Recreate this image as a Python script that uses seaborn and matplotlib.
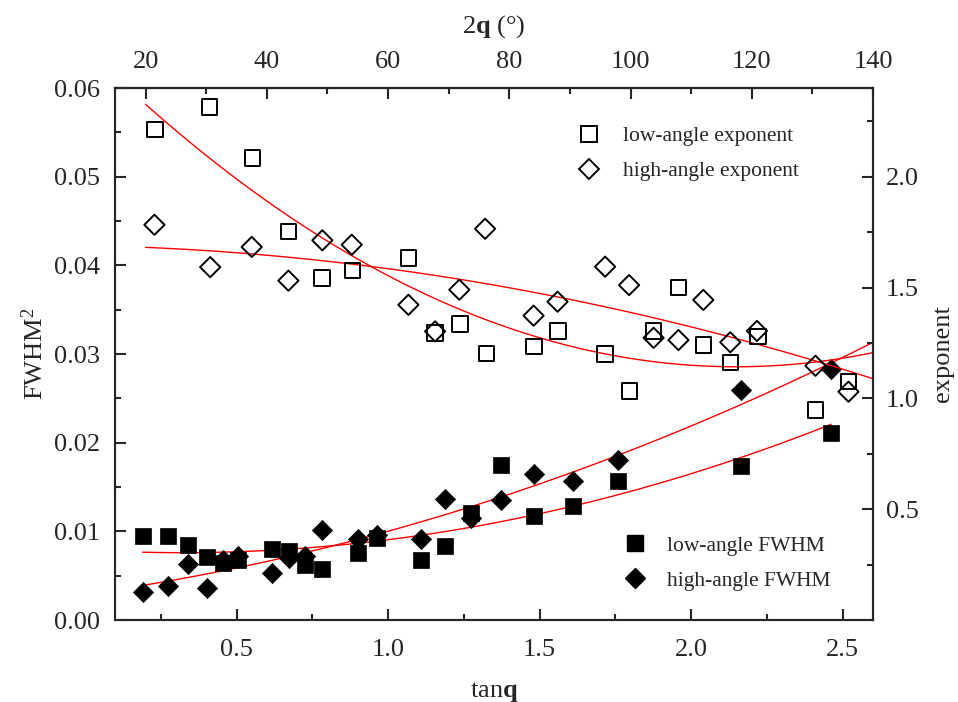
import numpy as np
import matplotlib
matplotlib.use("Agg")
import matplotlib.pyplot as plt
import seaborn as sns
from matplotlib.lines import Line2D

# ---------------- data ----------------
# filled markers (FWHM^2, left axis)
tan_fwhm = [0.19, 0.273, 0.341, 0.402, 0.456, 0.506, 0.618, 0.673, 0.726, 0.781,
            0.90, 0.963, 1.108, 1.188, 1.272, 1.373, 1.482, 1.61, 1.76, 2.165, 2.462]
low_fwhm = [0.0095, 0.0095, 0.0085, 0.0071, 0.0064, 0.0068, 0.0080, 0.0078, 0.0062, 0.0058,
            0.0076, 0.0092, 0.0068, 0.0084, 0.0121, 0.0175, 0.0117, 0.0129, 0.0157, 0.0174, 0.0211]
high_fwhm = [0.0032, 0.0038, 0.0063, 0.0036, 0.0068, 0.0072, 0.0053, 0.0070, 0.0072, 0.0101,
             0.0091, 0.0096, 0.0091, 0.0137, 0.0115, 0.0135, 0.0165, 0.0157, 0.0180, 0.0259, 0.0283]

# open markers (exponent, right axis)
tan_exp_low = [0.231, 0.41, 0.552, 0.671, 0.782, 0.883, 1.067, 1.155, 1.238, 1.325, 1.482,
               1.56, 1.716, 1.796, 1.876, 1.958, 2.04, 2.129, 2.22, 2.41, 2.519]
low_exp = [2.212, 2.314, 2.084, 1.753, 1.543, 1.576, 1.633, 1.295, 1.335, 1.203, 1.233,
           1.304, 1.200, 1.033, 1.304, 1.501, 1.240, 1.162, 1.278, 0.947, 1.075]
tan_exp_high = [0.229, 0.413, 0.55, 0.671, 0.783, 0.88, 1.067, 1.155, 1.235, 1.32, 1.48,
                1.559, 1.716, 1.795, 1.876, 1.958, 2.04, 2.129, 2.217, 2.41, 2.519]
high_exp = [1.783, 1.592, 1.683, 1.531, 1.713, 1.693, 1.422, 1.302, 1.490, 1.765, 1.373,
            1.436, 1.594, 1.511, 1.273, 1.263, 1.444, 1.253, 1.304, 1.147, 1.030]

x_ticks = [0.5, 1.0, 1.5, 2.0, 2.5]
y_ticks = [0.00, 0.01, 0.02, 0.03, 0.04, 0.05, 0.06]
exp_ticks = [0.5, 1.0, 1.5, 2.0]
top_ticks = [20, 40, 60, 80, 100, 120, 140]

# ---------------- style ----------------
sns.set_style("ticks")
plt.rcParams["font.family"] = ["Liberation Serif", "DejaVu Serif"]
plt.rcParams["mathtext.fontset"] = "custom"
plt.rcParams["mathtext.rm"] = "Liberation Serif"
plt.rcParams["mathtext.it"] = "Liberation Serif:italic"
plt.rcParams["mathtext.bf"] = "Liberation Serif:bold"
plt.rcParams["axes.linewidth"] = 1.5
plt.rcParams["xtick.direction"] = "in"
plt.rcParams["ytick.direction"] = "in"

FS = 19
fig = plt.figure(figsize=(9.58, 7.02), dpi=100)
ax = fig.add_axes([0.1204, 0.1168, 0.7909, 0.7578])
ax2 = ax.twinx()

# fits (quadratic regression through seaborn)
ax.set_xlim(0.19, 2.6)
sns.regplot(x=np.array(tan_fwhm), y=np.array(low_fwhm), order=2, ci=None, scatter=False,
            truncate=True, ax=ax, line_kws=dict(color="red", lw=1.0))
sns.regplot(x=np.array(tan_fwhm), y=np.array(high_fwhm), order=2, ci=None, scatter=False,
            truncate=False, ax=ax, line_kws=dict(color="red", lw=1.0))
ax2.set_xlim(0.2, 2.6)
sns.regplot(x=np.array(tan_exp_low), y=np.array(low_exp), order=2, ci=None, scatter=False,
            truncate=False, ax=ax2, line_kws=dict(color="red", lw=1.0))
sns.regplot(x=np.array(tan_exp_high), y=np.array(high_exp), order=2, ci=None, scatter=False,
            truncate=False, ax=ax2, line_kws=dict(color="red", lw=1.0))

# scatter points
sq_s = 125
di_s = 106
sns.scatterplot(x=tan_fwhm, y=low_fwhm, marker="s", s=sq_s, color="black",
                edgecolor="black", linewidth=0.5, ax=ax, zorder=3)
sns.scatterplot(x=tan_fwhm, y=high_fwhm, marker="D", s=di_s, color="black",
                edgecolor="black", linewidth=0.5, ax=ax, zorder=3)
sns.scatterplot(x=tan_exp_low, y=low_exp, marker="s", s=sq_s, color="black",
                facecolor="none", edgecolor="black", linewidth=1.4, ax=ax2, zorder=3)
sns.scatterplot(x=tan_exp_high, y=high_exp, marker="D", s=di_s, color="black",
                facecolor="none", edgecolor="black", linewidth=1.4, ax=ax2, zorder=3)

# axes ranges & ticks
ax.set_xlim(0.1, 2.6)
ax2.set_xlim(0.1, 2.6)
ax.set_ylim(0, 0.06)
ax2.set_ylim(0, 2.4)
ax.set_xticks(x_ticks)
ax.set_xticklabels([f"{v:.1f}" for v in x_ticks])
ax.set_xticks(np.arange(0.25, 2.6, 0.5), minor=True)
ax.set_yticks(y_ticks)
ax.set_yticklabels([f"{v:.2f}" for v in y_ticks])
ax.set_yticks(np.arange(0.005, 0.06, 0.01), minor=True)
ax2.set_yticks(exp_ticks)
ax2.set_yticklabels([f"{v:.1f}" for v in exp_ticks])
ax2.set_yticks(np.arange(0.25, 2.4, 0.5), minor=True)

for a in (ax, ax2):
    a.tick_params(which="major", length=8, width=1.5, labelsize=FS)
    a.tick_params(which="minor", length=4.5, width=1.5)
ax.tick_params(axis="y", left=True, right=False, pad=11)
ax.tick_params(axis="x", pad=14)
ax2.tick_params(axis="y", right=True, left=False, pad=9)

# top axis 2theta
top = ax.secondary_xaxis("top", functions=(lambda t: 15 + (t - 0.1) * 50,
                                           lambda d: 0.1 + (d - 15) / 50))
top.set_xticks(top_ticks)
top.set_xticklabels([str(v) for v in top_ticks])
top.set_xticks(np.arange(30, 140, 20), minor=True)
top.tick_params(which="major", direction="in", length=8, width=1.5, labelsize=FS, pad=11)
top.tick_params(which="minor", direction="in", length=4.5, width=1.5)
top.set_xlabel(r"2$\mathbf{q}$ (°)", fontsize=FS, labelpad=13)

ax.set_xlabel(r"tan$\mathbf{q}$", fontsize=FS, labelpad=13)
ax.set_ylabel(r"FWHM$^2$", fontsize=FS, labelpad=4)
ax2.set_ylabel("exponent", fontsize=FS, labelpad=10)

for a in (ax, ax2):
    for sp in a.spines.values():
        sp.set_linewidth(1.5)

# legends
h_open = [Line2D([], [], ls="none", marker="s", ms=11, mfc="none", mec="black", mew=1.4),
          Line2D([], [], ls="none", marker="D", ms=10, mfc="none", mec="black", mew=1.4)]
leg1 = ax2.legend(h_open, ["low-angle exponent", "high-angle exponent"],
                  loc="upper left", bbox_to_anchor=(0.582, 0.965), frameon=False,
                  fontsize=15.5, handlelength=1.2, handletextpad=1.0, labelspacing=0.7)
h_fill = [Line2D([], [], ls="none", marker="s", ms=11, mfc="black", mec="black"),
          Line2D([], [], ls="none", marker="D", ms=10, mfc="black", mec="black")]
leg2 = ax2.legend(h_fill, ["low-angle FWHM", "high-angle FWHM"],
                  loc="upper left", bbox_to_anchor=(0.643, 0.195), frameon=False,
                  fontsize=15.5, handlelength=1.2, handletextpad=0.9, labelspacing=0.7)
ax2.add_artist(leg1)

fig.savefig("out.png", dpi=100)
